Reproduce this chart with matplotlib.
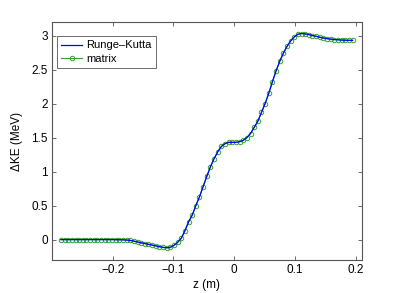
import matplotlib
matplotlib.use('Agg')
import matplotlib.pyplot as plt

plt.rcParams['font.family'] = ['Liberation Sans', 'DejaVu Sans']

z = [-0.285, -0.279, -0.273, -0.267, -0.261, -0.255, -0.249, -0.243, -0.237,
     -0.231, -0.225, -0.219, -0.213, -0.207, -0.201, -0.195, -0.189, -0.183,
     -0.177, -0.171, -0.165, -0.159, -0.153, -0.147, -0.141, -0.135, -0.129,
     -0.123, -0.117, -0.111, -0.105, -0.099, -0.093, -0.087, -0.081, -0.075,
     -0.069, -0.063, -0.057, -0.051, -0.045, -0.039, -0.033, -0.027, -0.021,
     -0.015, -0.009, -0.003, 0.003, 0.009, 0.015, 0.021, 0.027, 0.033, 0.039,
     0.045, 0.051, 0.057, 0.063, 0.069, 0.075, 0.081, 0.087, 0.093, 0.099,
     0.105, 0.111, 0.117, 0.123, 0.129, 0.135, 0.141, 0.147, 0.153, 0.159,
     0.165, 0.171, 0.177, 0.183, 0.189, 0.195]
dke = [0.0, 0.0, 0.0, 0.0, 0.0, 0.0, 0.0, 0.0, 0.0,
       0.0, 0.0, 0.0, 0.0, 0.0, 0.0, -0.001, -0.002, -0.003,
       -0.006, -0.012, -0.022, -0.035, -0.047, -0.058, -0.069, -0.080, -0.092,
       -0.104, -0.114, -0.120, -0.113, -0.085, -0.040, 0.02, 0.13, 0.26,
       0.36, 0.50, 0.63, 0.78, 0.93, 1.07, 1.19, 1.29, 1.37,
       1.41, 1.43, 1.43, 1.43, 1.44, 1.46, 1.50, 1.56, 1.65, 1.74,
       1.87, 2.00, 2.15, 2.32, 2.48, 2.62, 2.74, 2.84, 2.92, 2.98,
       3.02, 3.03, 3.025, 3.015, 3.00, 2.99, 2.975, 2.965, 2.955, 2.948,
       2.942, 2.938, 2.934, 2.932, 2.930, 2.930]

fig = plt.figure(figsize=(3.99, 2.93), dpi=100)
ax = fig.add_axes([0.13, 0.1126, 0.7765, 0.8124])

ax.plot(z, dke, color='#0000ff', lw=0.9, label='Runge\u2013Kutta', zorder=3)
ax.plot(z, dke, color='#33a033', lw=0.8, marker='o', ms=3.2, mfc='none',
        mec='#33a033', mew=0.7, label='matrix', zorder=2)

ax.set_xlim(-0.3, 0.21)
ax.set_ylim(-0.3, 3.2)
ax.set_xticks([-0.2, -0.1, 0, 0.1, 0.2])
ax.set_xticklabels(['\u22120.2', '\u22120.1', '0', '0.1', '0.2'])
ax.set_yticks([0, 0.5, 1, 1.5, 2, 2.5, 3])
ax.set_yticklabels(['0', '0.5', '1', '1.5', '2', '2.5', '3'])
ax.tick_params(direction='in', top=True, right=True, length=3, width=0.6,
               color='#555555', labelsize=8.5, pad=3)
for s in ax.spines.values():
    s.set_color('#555555')
    s.set_linewidth(0.8)

ax.set_xlabel('z (m)', fontsize=8.5, labelpad=2)
ax.set_ylabel('\u0394KE (MeV)', fontsize=8.5, labelpad=6)

leg = ax.legend(loc='upper left', bbox_to_anchor=(0.016, 0.941), fontsize=8,
                fancybox=False, framealpha=1, edgecolor='#555555',
                borderaxespad=0, handlelength=1.9, handletextpad=0.35,
                borderpad=0.4, labelspacing=0.3)
leg.get_frame().set_linewidth(0.6)

fig.savefig('out.png', dpi=100)
